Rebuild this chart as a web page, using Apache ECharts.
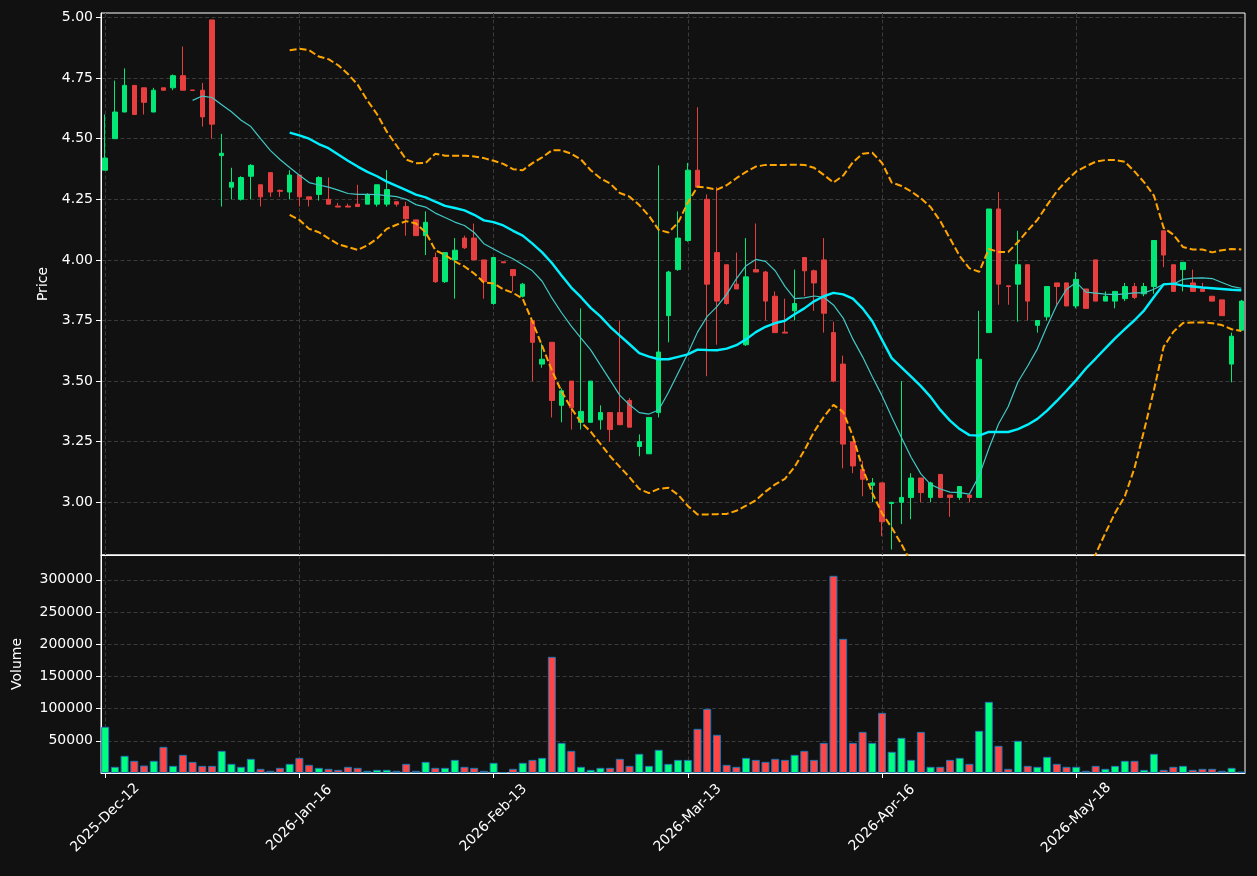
<!DOCTYPE html>
<html>
<head>
<meta charset="utf-8">
<script src="https://cdn.jsdelivr.net/npm/echarts@6.0.0/dist/echarts.min.js"></script>
<style>
  html, body { margin: 0; padding: 0; background: #111111; }
  #chart { width: 1257px; height: 876px; }
</style>
</head>
<body>
<div id="chart"></div>
<script>
// trading days shown on the x axis (index based, like mplfinance)
const dates = [
  '2025-Dec-12', '2025-Dec-15', '2025-Dec-16', '2025-Dec-17', '2025-Dec-18', '2025-Dec-19', '2025-Dec-22', '2025-Dec-23', '2025-Dec-29', '2025-Dec-30',
  '2025-Dec-31', '2026-Jan-05', '2026-Jan-06', '2026-Jan-07', '2026-Jan-08', '2026-Jan-09', '2026-Jan-12', '2026-Jan-13', '2026-Jan-14', '2026-Jan-15',
  '2026-Jan-16', '2026-Jan-19', '2026-Jan-20', '2026-Jan-21', '2026-Jan-22', '2026-Jan-23', '2026-Jan-26', '2026-Jan-27', '2026-Jan-28', '2026-Jan-29',
  '2026-Jan-30', '2026-Feb-02', '2026-Feb-03', '2026-Feb-04', '2026-Feb-05', '2026-Feb-06', '2026-Feb-09', '2026-Feb-10', '2026-Feb-11', '2026-Feb-12',
  '2026-Feb-13', '2026-Feb-16', '2026-Feb-17', '2026-Feb-18', '2026-Feb-19', '2026-Feb-20', '2026-Feb-23', '2026-Feb-24', '2026-Feb-25', '2026-Feb-26',
  '2026-Feb-27', '2026-Mar-02', '2026-Mar-03', '2026-Mar-04', '2026-Mar-05', '2026-Mar-06', '2026-Mar-09', '2026-Mar-10', '2026-Mar-11', '2026-Mar-12',
  '2026-Mar-13', '2026-Mar-16', '2026-Mar-17', '2026-Mar-18', '2026-Mar-19', '2026-Mar-20', '2026-Mar-23', '2026-Mar-24', '2026-Mar-25', '2026-Mar-26',
  '2026-Mar-27', '2026-Mar-30', '2026-Mar-31', '2026-Apr-01', '2026-Apr-08', '2026-Apr-09', '2026-Apr-10', '2026-Apr-13', '2026-Apr-14', '2026-Apr-15',
  '2026-Apr-16', '2026-Apr-17', '2026-Apr-20', '2026-Apr-21', '2026-Apr-22', '2026-Apr-23', '2026-Apr-24', '2026-Apr-27', '2026-Apr-28', '2026-Apr-29',
  '2026-May-04', '2026-May-05', '2026-May-06', '2026-May-07', '2026-May-08', '2026-May-11', '2026-May-12', '2026-May-13', '2026-May-14', '2026-May-15',
  '2026-May-18', '2026-May-19', '2026-May-20', '2026-May-21', '2026-May-22', '2026-May-25', '2026-May-26', '2026-May-27', '2026-May-28', '2026-May-29',
  '2026-Jun-01', '2026-Jun-02', '2026-Jun-03', '2026-Jun-04', '2026-Jun-05', '2026-Jun-08', '2026-Jun-09', '2026-Jun-10'
]

const opens = [
  4.37, 4.50, 4.61, 4.72, 4.71, 4.61, 4.71, 4.71, 4.76, 4.701,
  4.70, 4.99, 4.43, 4.30, 4.25, 4.345, 4.31, 4.36, 4.287, 4.28,
  4.35, 4.26, 4.27, 4.25, 4.222, 4.222, 4.23, 4.23, 4.23, 4.23,
  4.24, 4.22, 4.165, 4.10, 4.01, 3.91, 4.00, 4.09, 4.09, 4.00,
  3.82, 3.992, 3.96, 3.85, 3.75, 3.57, 3.66, 3.40, 3.50, 3.33,
  3.33, 3.34, 3.37, 3.37, 3.42, 3.23, 3.20, 3.37, 3.77, 3.96,
  4.08, 4.37, 4.25, 4.03, 3.98, 3.90, 3.65, 3.96, 3.95, 3.85,
  3.702, 3.79, 4.01, 3.955, 4.00, 3.70, 3.57, 3.25, 3.135, 3.07,
  3.08, 2.995, 3.00, 3.02, 3.10, 3.02, 3.115, 3.03, 3.02, 3.03,
  3.02, 3.70, 4.21, 3.893, 3.90, 3.98, 3.73, 3.765, 3.905, 3.905,
  3.81, 3.88, 4.00, 3.83, 3.83, 3.84, 3.89, 3.86, 3.89, 4.12,
  3.98, 3.96, 3.905, 3.88, 3.85, 3.835, 3.57, 3.71
]
const closes = [
  4.42, 4.61, 4.72, 4.60, 4.65, 4.70, 4.70, 4.76, 4.70, 4.699,
  4.59, 4.56, 4.44, 4.32, 4.34, 4.39, 4.26, 4.28, 4.283, 4.35,
  4.26, 4.25, 4.34, 4.23, 4.218, 4.218, 4.22, 4.27, 4.31, 4.29,
  4.23, 4.17, 4.10, 4.155, 3.91, 4.03, 4.04, 4.05, 4.00, 3.91,
  4.01, 3.988, 3.935, 3.90, 3.66, 3.59, 3.42, 3.46, 3.39, 3.375,
  3.50, 3.37, 3.30, 3.32, 3.31, 3.25, 3.35, 3.62, 3.95, 4.09,
  4.37, 4.30, 3.90, 3.83, 3.82, 3.88, 3.93, 3.95, 3.83, 3.70,
  3.698, 3.82, 3.955, 3.905, 3.78, 3.50, 3.24, 3.15, 3.095, 3.08,
  2.92, 3.00, 3.02, 3.10, 3.04, 3.08, 3.02, 3.02, 3.065, 3.02,
  3.59, 4.21, 3.90, 3.890, 3.98, 3.83, 3.75, 3.89, 3.89, 3.81,
  3.92, 3.80, 3.83, 3.85, 3.87, 3.89, 3.845, 3.89, 4.08, 4.02,
  3.87, 3.99, 3.87, 3.87, 3.83, 3.77, 3.685, 3.83
]
const highs = [
  4.60, 4.74, 4.79, 4.72, 4.71, 4.71, 4.71, 4.765, 4.88, 4.70,
  4.73, 4.99, 4.52, 4.38, 4.345, 4.395, 4.31, 4.36, 4.29, 4.37,
  4.35, 4.26, 4.345, 4.34, 4.235, 4.232, 4.31, 4.275, 4.31, 4.37,
  4.24, 4.24, 4.165, 4.20, 4.03, 4.03, 4.09, 4.10, 4.15, 4.00,
  4.01, 3.99, 3.96, 3.905, 3.75, 3.655, 3.66, 3.47, 3.50, 3.80,
  3.50, 3.40, 3.37, 3.75, 3.43, 3.28, 3.35, 4.39, 3.955, 4.20,
  4.40, 4.63, 4.27, 4.30, 3.98, 4.03, 4.09, 4.15, 3.955, 3.87,
  3.84, 3.96, 4.01, 3.96, 4.09, 3.745, 3.605, 3.25, 3.17, 3.10,
  3.08, 3.00, 3.50, 3.12, 3.10, 3.085, 3.115, 3.03, 3.065, 3.03,
  3.79, 4.21, 4.28, 3.893, 4.12, 3.98, 3.75, 3.89, 3.905, 3.905,
  3.95, 3.88, 4.00, 3.87, 3.87, 3.905, 3.905, 3.905, 4.08, 4.12,
  3.98, 3.99, 3.96, 3.905, 3.85, 3.835, 3.70, 3.835
]
const lows = [
  4.37, 4.50, 4.61, 4.60, 4.60, 4.61, 4.70, 4.70, 4.70, 4.699,
  4.55, 4.50, 4.22, 4.25, 4.245, 4.25, 4.22, 4.26, 4.26, 4.25,
  4.22, 4.22, 4.245, 4.23, 4.218, 4.218, 4.22, 4.23, 4.22, 4.22,
  4.22, 4.10, 4.10, 4.02, 3.905, 3.905, 3.84, 4.045, 4.00, 3.84,
  3.815, 3.988, 3.87, 3.845, 3.50, 3.555, 3.35, 3.33, 3.30, 3.30,
  3.33, 3.30, 3.25, 3.32, 3.31, 3.19, 3.20, 3.35, 3.66, 3.955,
  4.075, 4.30, 3.52, 3.65, 3.815, 3.88, 3.645, 3.95, 3.75, 3.70,
  3.698, 3.75, 3.85, 3.79, 3.70, 3.495, 3.14, 3.12, 3.025, 3.00,
  2.86, 2.805, 2.91, 2.93, 3.00, 3.00, 3.02, 2.94, 3.01, 3.00,
  3.02, 3.70, 3.815, 3.815, 3.745, 3.75, 3.70, 3.75, 3.815, 3.81,
  3.80, 3.80, 3.83, 3.83, 3.80, 3.83, 3.838, 3.85, 3.86, 3.97,
  3.87, 3.87, 3.87, 3.87, 3.83, 3.77, 3.495, 3.71
]
const volumes = [
  71700, 9600, 26700, 18900, 11600, 18900, 40600, 11100, 28200, 17300,
  11100, 11100, 34400, 14200, 9600, 22000, 6500, 3400, 8000, 14200,
  23500, 12700, 8000, 6500, 4900, 9600, 8000, 3400, 4900, 4900,
  3400, 14200, 3400, 17300, 8000, 8000, 20400, 9600, 8000, 3400,
  15800, 1500, 6500, 15800, 20400, 23500, 180400, 46800, 34400, 9600,
  4900, 8000, 8000, 22000, 11100, 29800, 11100, 36000, 14200, 20400,
  20400, 68600, 99600, 59300, 12700, 9600, 23500, 20400, 17300, 22000,
  20400, 28200, 34400, 20400, 46800, 306200, 208300, 46800, 63900, 46800,
  93400, 32900, 54600, 20400, 63900, 9600, 9600, 20400, 23500, 14200,
  65500, 110500, 42200, 6500, 50000, 11100, 9600, 25100, 14200, 9600,
  9600, 3400, 11100, 6500, 11100, 18900, 18900, 4900, 29800, 4900,
  9600, 11100, 4900, 6500, 6500, 3400, 8000, 2300
]

// moving averages and bands as drawn (first point index given by *_START)
const MA10_START = 9
const ma10 = [
  4.658, 4.676, 4.670, 4.640, 4.611, 4.576, 4.550, 4.500, 4.452, 4.414, 4.381,
  4.349, 4.319, 4.309, 4.300, 4.288, 4.274, 4.270, 4.270, 4.269, 4.265,
  4.261, 4.250, 4.228, 4.218, 4.193, 4.175, 4.156, 4.142, 4.113, 4.067,
  4.045, 4.023, 4.005, 3.980, 3.955, 3.912, 3.843, 3.782, 3.727, 3.677,
  3.629, 3.566, 3.504, 3.441, 3.402, 3.370, 3.364, 3.381, 3.453, 3.533,
  3.614, 3.702, 3.767, 3.807, 3.858, 3.922, 3.976, 4.002, 3.994, 3.955,
  3.891, 3.840, 3.843, 3.851, 3.846, 3.814, 3.760, 3.673, 3.600, 3.518,
  3.440, 3.352, 3.267, 3.186, 3.117, 3.074, 3.055, 3.042, 3.040, 3.034,
  3.109, 3.222, 3.323, 3.395, 3.496, 3.562, 3.633, 3.727, 3.814, 3.879,
  3.907, 3.867, 3.863, 3.859, 3.857, 3.860, 3.864, 3.864, 3.879, 3.900,
  3.900, 3.920, 3.925, 3.926, 3.923, 3.907, 3.891, 3.883
]
const BAND_START = 19
const ma20 = [
  4.525,
  4.514, 4.500, 4.478, 4.461, 4.435, 4.409, 4.385, 4.363, 4.345, 4.323,
  4.305, 4.288, 4.269, 4.258, 4.240, 4.223, 4.214, 4.204, 4.186, 4.163,
  4.156, 4.142, 4.120, 4.100, 4.067, 4.031, 3.987, 3.936, 3.886, 3.846,
  3.802, 3.767, 3.724, 3.688, 3.652, 3.615, 3.601, 3.590, 3.590, 3.600,
  3.610, 3.630, 3.628, 3.627, 3.634, 3.648, 3.672, 3.702, 3.724, 3.739,
  3.749, 3.776, 3.800, 3.829, 3.850, 3.864, 3.858, 3.840, 3.800, 3.747,
  3.670, 3.595, 3.557, 3.518, 3.479, 3.435, 3.381, 3.337, 3.302, 3.277,
  3.275, 3.290, 3.290, 3.290, 3.302, 3.320, 3.344, 3.378, 3.418, 3.460,
  3.504, 3.552, 3.593, 3.635, 3.676, 3.714, 3.751, 3.792, 3.847, 3.899,
  3.902, 3.894, 3.890, 3.886, 3.883, 3.880, 3.877, 3.875
]
const bbUpper = [
  4.865,
  4.871, 4.865, 4.839, 4.828, 4.803, 4.767, 4.723, 4.658, 4.601, 4.529,
  4.472, 4.414, 4.399, 4.400, 4.438, 4.430, 4.430, 4.430, 4.427, 4.420,
  4.409, 4.396, 4.374, 4.370, 4.399, 4.423, 4.452, 4.452, 4.438, 4.414,
  4.370, 4.337, 4.315, 4.276, 4.261, 4.226, 4.182, 4.124, 4.113, 4.153,
  4.236, 4.302, 4.298, 4.290, 4.308, 4.337, 4.363, 4.385, 4.392, 4.392,
  4.392, 4.393, 4.392, 4.380, 4.351, 4.319, 4.348, 4.403, 4.438, 4.442,
  4.400, 4.319, 4.305, 4.283, 4.254, 4.218, 4.160, 4.088, 4.016, 3.965,
  3.951, 4.045, 4.033, 4.033, 4.074, 4.121, 4.165, 4.226, 4.283, 4.327,
  4.365, 4.386, 4.405, 4.412, 4.412, 4.405, 4.365, 4.320, 4.265, 4.132,
  4.104, 4.053, 4.043, 4.043, 4.031, 4.040, 4.045, 4.043
]
const bbLower = [
  4.186,
  4.165, 4.128, 4.114, 4.089, 4.065, 4.053, 4.041, 4.060, 4.088, 4.128,
  4.145, 4.160, 4.150, 4.114, 4.040, 4.020, 3.994, 3.973, 3.944, 3.907,
  3.903, 3.879, 3.864, 3.840, 3.745, 3.645, 3.544, 3.457, 3.388, 3.330,
  3.291, 3.241, 3.190, 3.146, 3.103, 3.055, 3.038, 3.055, 3.060, 3.031,
  2.985, 2.950, 2.950, 2.951, 2.952, 2.965, 2.986, 3.008, 3.044, 3.074,
  3.097, 3.146, 3.214, 3.291, 3.352, 3.402, 3.373, 3.272, 3.140, 3.038,
  2.955, 2.895, 2.827, 2.753, 2.704, 2.652, 2.602, 2.586, 2.588, 2.589,
  2.599, 2.535, 2.547, 2.547, 2.530, 2.519, 2.523, 2.530, 2.553, 2.593,
  2.643, 2.718, 2.786, 2.873, 2.956, 3.024, 3.141, 3.298, 3.463, 3.641,
  3.703, 3.740, 3.742, 3.742, 3.739, 3.731, 3.714, 3.707
]

// tick positions / labels
const xTicks = [0, 20, 40, 60, 80, 100]
const priceTicks = [3.00, 3.25, 3.50, 3.75, 4.00, 4.25, 4.50, 4.75, 5.00]
const volumeTicks = [50000, 100000, 150000, 200000, 250000, 300000]

const upCandle = '#02e776'
const downCandle = '#e73f3f'
const upVol = '#00ff80'
const downVol = '#ff4545'
const gridLine = { color: '#3a3a3a', type: [4, 2.5], width: 1 }
const font = { color: '#ffffff', fontSize: 14, fontFamily: 'DejaVu Sans' }
const bandStyle = { color: '#ffa500', width: 2, type: [7, 3] }

const candles = opens.map((o, i) => [i, o, closes[i], lows[i], highs[i]])
const volBars = volumes.map((v, i) => ({
  value: [i, v],
  itemStyle: { color: closes[i] >= opens[i] ? upVol : downVol }
}))
const withStart = (arr, start) => arr.map((v, k) => [k + start, v])

function xAxisFor(gridIndex, showLabels) {
  return {
    type: 'value',
    gridIndex: gridIndex,
    min: -0.43,
    max: 117.38,
    axisLine: { show: true, onZero: false, lineStyle: { color: '#ffffff' } },
    axisTick: { show: showLabels, length: 5, customValues: xTicks, lineStyle: { color: '#ffffff' } },
    axisLabel: {
      show: showLabels,
      customValues: xTicks,
      rotate: 45,
      align: 'center',
      verticalAlign: 'middle',
      margin: 45,
      ...font,
      formatter: v => dates[Math.round(v)]
    },
    splitLine: { show: true, lineStyle: gridLine }
  }
}

const chart = echarts.init(document.getElementById('chart'))
chart.setOption({
  backgroundColor: '#111111',
  animation: false,
  grid: [
    { left: 101, top: 13, width: 1144, height: 542, show: true, borderColor: '#ffffff', borderWidth: 1 },
    { left: 101, top: 555, width: 1144, height: 218, show: true, borderColor: '#ffffff', borderWidth: 1 }
  ],
  xAxis: [xAxisFor(0, false), xAxisFor(1, true)],
  yAxis: [
    {
      type: 'value',
      gridIndex: 0,
      min: 2.7825,
      max: 5.0186,
      name: 'Price',
      nameLocation: 'middle',
      nameGap: 51,
      nameTextStyle: font,
      axisLine: { show: true, onZero: false, lineStyle: { color: '#ffffff' } },
      axisTick: { show: true, length: 5, customValues: priceTicks, lineStyle: { color: '#ffffff' } },
      axisLabel: { customValues: priceTicks, margin: 8, ...font, formatter: v => v.toFixed(2) },
      splitLine: { show: true, lineStyle: gridLine }
    },
    {
      type: 'value',
      gridIndex: 1,
      min: 0,
      max: 338500,
      name: 'Volume',
      nameLocation: 'middle',
      nameGap: 77,
      nameTextStyle: font,
      axisLine: { show: true, onZero: false, lineStyle: { color: '#ffffff' } },
      axisTick: { show: true, length: 5, customValues: volumeTicks, lineStyle: { color: '#ffffff' } },
      axisLabel: { customValues: volumeTicks, margin: 8, ...font, formatter: v => String(v) },
      splitLine: { show: true, lineStyle: gridLine }
    }
  ],
  series: [
    {
      type: 'candlestick',
      xAxisIndex: 0,
      yAxisIndex: 0,
      data: candles,
      encode: { x: 0, y: [1, 2, 3, 4] },
      barWidth: 5,
      itemStyle: {
        color: upCandle,
        color0: downCandle,
        borderColor: upCandle,
        borderColor0: downCandle,
        borderWidth: 1
      }
    },
    {
      type: 'bar',
      xAxisIndex: 1,
      yAxisIndex: 1,
      data: volBars,
      barWidth: 8,
      itemStyle: { borderColor: '#1f77b4', borderWidth: 1 }
    },
    {
      type: 'line', xAxisIndex: 0, yAxisIndex: 0,
      data: withStart(bbUpper, BAND_START),
      symbol: 'none',
      lineStyle: bandStyle
    },
    {
      type: 'line', xAxisIndex: 0, yAxisIndex: 0,
      data: withStart(bbLower, BAND_START),
      symbol: 'none',
      lineStyle: bandStyle
    },
    {
      type: 'line', xAxisIndex: 0, yAxisIndex: 0,
      data: withStart(ma10, MA10_START),
      symbol: 'none',
      lineStyle: { color: '#40c8c4', width: 1.2 }
    },
    {
      type: 'line', xAxisIndex: 0, yAxisIndex: 0,
      data: withStart(ma20, BAND_START),
      symbol: 'none',
      lineStyle: { color: '#00f0ff', width: 2.4 }
    }
  ]
})
</script>
</body>
</html>
